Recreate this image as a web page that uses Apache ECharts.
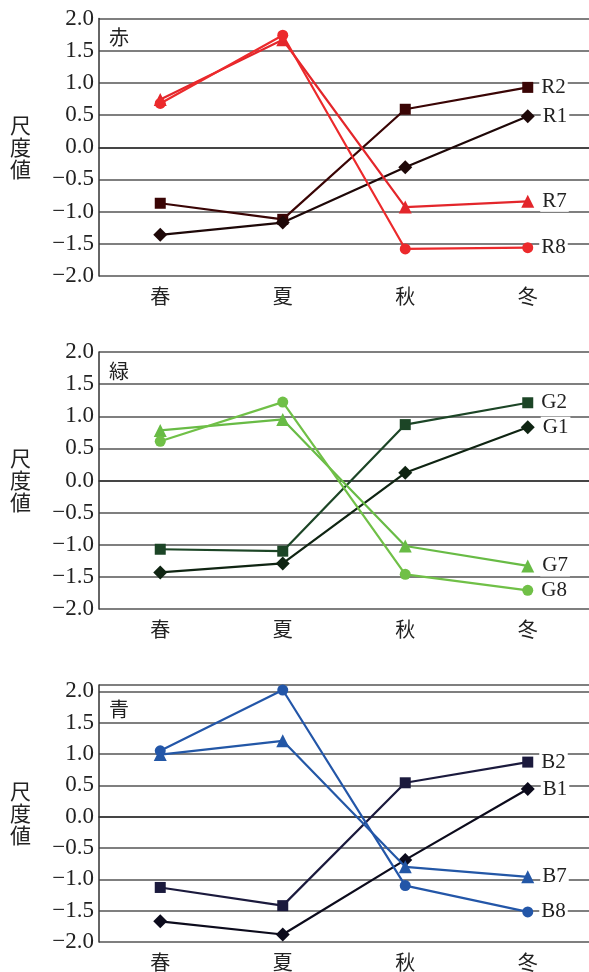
<!DOCTYPE html>
<html><head><meta charset="utf-8">
<script src="https://cdn.jsdelivr.net/npm/echarts@6/dist/echarts.min.js"></script>
<style>html,body{margin:0;padding:0;background:#fff;}#c{width:589px;height:972px;}</style>
</head><body><div id="c"></div>
<script>
const categories = ['春', '夏', '秋', '冬'];
const panelTitles = ['赤', '緑', '青'];
const yTickMin = -2.0, yTickStep = 0.5;
const panelMax = [2.0, 2.0, 2.1];

const R1 = [-1.36, -1.17, -0.31, 0.48];
const R2 = [-0.87, -1.12, 0.59, 0.93];
const R7 = [0.74, 1.67, -0.93, -0.84];
const R8 = [0.68, 1.74, -1.58, -1.56];

const G1 = [-1.43, -1.29, 0.12, 0.83];
const G2 = [-1.07, -1.10, 0.87, 1.21];
const G7 = [0.78, 0.95, -1.02, -1.33];
const G8 = [0.61, 1.22, -1.46, -1.71];

const B1 = [-1.67, -1.88, -0.69, 0.44];
const B2 = [-1.13, -1.42, 0.54, 0.87];
const B7 = [0.99, 1.21, -0.80, -0.96];
const B8 = [1.05, 2.02, -1.10, -1.52];

const panels = [
  [['R2', R2, 'rect', '#3a0505'], ['R1', R1, 'diamond', '#1e0808'], ['R7', R7, 'triangle', '#e3262b'], ['R8', R8, 'circle', '#ec2a2c']],
  [['G2', G2, 'rect', '#1c4526'], ['G1', G1, 'diamond', '#0f2412'], ['G7', G7, 'triangle', '#68bb45'], ['G8', G8, 'circle', '#70c047']],
  [['B2', B2, 'rect', '#1b1a3d'], ['B1', B1, 'diamond', '#0c0b1c'], ['B7', B7, 'triangle', '#2357a6'], ['B8', B8, 'circle', '#2356a8']]
];

const gridTops = [18.5, 352, 685];
const gridH = [257.5, 257, 257];
const symSize = { rect: 11, diamond: 14, triangle: 13, circle: 11 };

const chart = echarts.init(document.getElementById('c'), null, { renderer: 'canvas' });
const serif = '"Liberation Serif", "Times New Roman", serif';
const cjk = '"Noto Sans CJK JP", sans-serif';

const grids = [], xAxes = [], yAxes = [], series = [], titles = [];
panels.forEach((p, i) => {
  grids.push({ left: 99, width: 494, top: gridTops[i], height: gridH[i], show: false });
  xAxes.push({
    type: 'category', gridIndex: i, data: categories, boundaryGap: true,
    axisLine: { show: true, lineStyle: { color: '#333', width: 1.5 } },
    axisTick: { show: false },
    axisLabel: { fontFamily: cjk, fontSize: 20, color: '#222', margin: 10 }
  });
  yAxes.push({
    type: 'value', gridIndex: i, min: yTickMin, max: panelMax[i], interval: yTickStep,
    name: '尺\n度\n値', nameLocation: 'middle', nameGap: 68, nameRotate: 0,
    nameTextStyle: { fontFamily: cjk, fontSize: 21, color: '#222', lineHeight: 22 },
    axisLine: { show: true, lineStyle: { color: '#333', width: 1.5 } },
    axisTick: { show: false },
    axisLabel: {
      fontFamily: serif, fontSize: 23, color: '#222', margin: 5,
      formatter: v => (v > 2.05 ? '' : (v < 0 ? '\u2212' + Math.abs(v).toFixed(1) : v.toFixed(1)))
    },
    splitLine: { show: true, lineStyle: { color: '#555', width: 1.5 } }
  });
  titles.push({ text: panelTitles[i], left: 104, top: gridTops[i] + (i === 2 ? 9 : 4),
    textStyle: { fontFamily: cjk, fontSize: 20, fontWeight: 'normal', color: '#222' } });
  p.forEach(([name, data, sym, color]) => {
    series.push({
      name, type: 'line', xAxisIndex: i, yAxisIndex: i, data,
      symbol: sym, symbolSize: symSize[sym],
      lineStyle: { color, width: 2.2 }, itemStyle: { color },
      z: sym === 'rect' || sym === 'diamond' ? 3 : 4,
      label: {
        show: true, position: 'right', distance: 6,
        formatter: (pp) => pp.dataIndex === 3 ? name : '',
        fontFamily: serif, fontSize: 21, color: '#222',
        backgroundColor: '#fff', padding: [0, 2, 0, 2]
      },
      animation: false
    });
  });
});

chart.setOption({
  animation: false,
  backgroundColor: '#fff',
  title: titles,
  grid: grids, xAxis: xAxes, yAxis: yAxes, series
});
</script></body></html>
